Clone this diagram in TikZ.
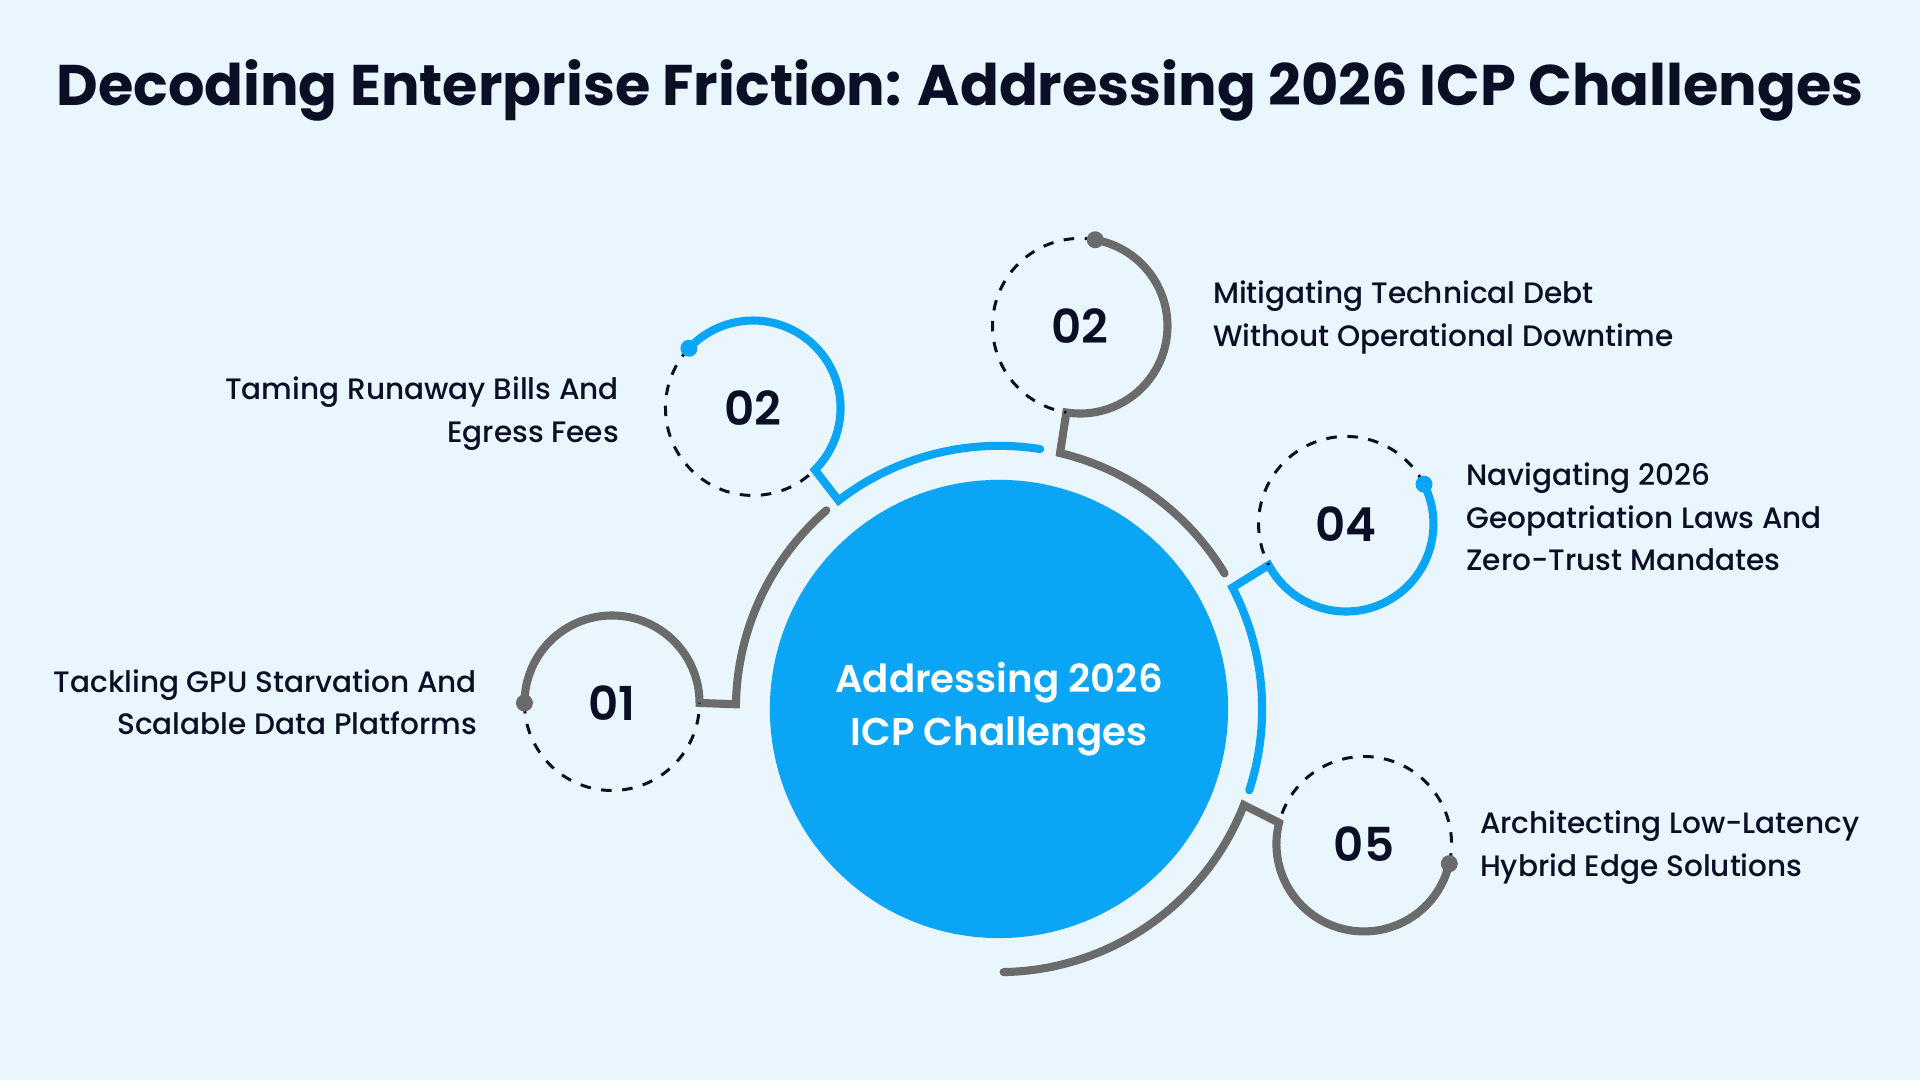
\documentclass[tikz,border=0pt]{standalone}
\usepackage{fontspec}
\setmainfont{Poppins}
\newfontfamily\medfont{Poppins Medium}
\newfontfamily\semifont{Poppins SemiBold}
\definecolor{bgc}{HTML}{EAF6FE}
\definecolor{hubc}{HTML}{0AA5F4}
\definecolor{grayc}{HTML}{6B6B6B}
\definecolor{inkc}{HTML}{0B0F26}
\tikzset{
  grayline/.style={draw=grayc, line width=2.3pt, line cap=round, line join=miter},
  blueline/.style={draw=hubc, line width=2.3pt, line cap=round, line join=miter},
  dashline/.style={draw=inkc, line width=0.85pt, dash pattern=on 3pt off 3pt},
  smallc/.style={circle, minimum size=1.75cm, inner sep=0pt, outer sep=0pt, text=inkc, font=\semifont\fontsize{13.3}{15}\selectfont},
  lbl/.style={inner sep=0pt, text=inkc, font=\medfont\fontsize{8.4}{12.06}\selectfont},
}
\begin{document}
\begin{tikzpicture}[x=0.01cm,y=0.01cm]
\fill[bgc] (0,0) rectangle (1920,1080);
\useasboundingbox (0,0) rectangle (1920,1080);
% title
\node[inner sep=0pt, anchor=base, text=inkc, font=\bfseries\fontsize{16.3}{19}\selectfont] (title) at (960,974.3) {Decoding Enterprise Friction: Addressing 2026 ICP Challenges};
% hub
\node[circle, fill=hubc, minimum size=4.58cm, inner sep=0pt] (hub) at (999,371) {};
\node[inner sep=0pt, text=white, align=center, font=\semifont\fontsize{11}{14.9}\selectfont] (hubtext) at (999,371) {Addressing 2026\\ICP Challenges};
\node[circle, minimum size=5.26cm, inner sep=0pt, outer sep=0pt] (ring) at (999,371) {};
% small circles
\node[smallc] (c1) at (612,377) {01};
\node[smallc] (c2l) at (753,672) {02};
\node[smallc] (c2r) at (1080,754) {02};
\node[smallc] (c4) at (1346,556) {04};
\node[smallc] (c5) at (1364,236) {05};
% 01 gray
\draw[grayline] (ring.131) arc[start angle=131, end angle=179, radius=263] -- (c1.0) arc[start angle=0, end angle=180, radius=87.5];
\draw[dashline] (c1.180) arc[start angle=180, end angle=360, radius=87.5];
\fill[grayc] (c1.180) circle[radius=8.5];
% 02 left blue
\draw[blueline] (ring.81) arc[start angle=81, end angle=127.6, radius=263] -- (c2l.-45) arc[start angle=-45, end angle=137, radius=87.5];
\draw[dashline] (c2l.137) arc[start angle=137, end angle=315, radius=87.5];
\fill[hubc] (c2l.137) circle[radius=8.5];
% 02 right gray
\draw[grayline] (ring.31) arc[start angle=31, end angle=76.6, radius=263] -- (c2r.-99) arc[start angle=-99, end angle=80, radius=87.5];
\draw[dashline] (c2r.80) arc[start angle=80, end angle=261, radius=87.5];
\fill[grayc] (c2r.80) circle[radius=8.5];
% 04 blue
\draw[blueline] (ring.-18) arc[start angle=-18, end angle=27.5, radius=263] -- (c4.208) arc[start angle=208, end angle=387, radius=87.5];
\draw[dashline] (c4.27) arc[start angle=27, end angle=208, radius=87.5];
\fill[hubc] (c4.27) circle[radius=8.5];
% 05 gray
\draw[grayline] (ring.-89) arc[start angle=-89, end angle=-21.4, radius=263] -- (c5.166) arc[start angle=166, end angle=347, radius=87.5];
\draw[dashline] (c5.-13) arc[start angle=-13, end angle=166, radius=87.5];
\fill[grayc] (c5.-13) circle[radius=8.5];
% labels
\node[lbl, anchor=east, align=right] (t2l) at (619.6,666.5) {Taming Runaway Bills And\\Egress Fees};
\node[lbl, anchor=east, align=right] (t1) at (477.6,377.7) {Tackling GPU Starvation And\\Scalable Data Platforms};
\node[lbl, anchor=west, align=left] (t2r) at (1212.3,762.5) {Mitigating Technical Debt\\Without Operational Downtime};
\node[lbl, anchor=west, align=left] (t4) at (1465.8,563) {Navigating 2026\\Geopatriation Laws And\\Zero-Trust Mandates};
\node[lbl, anchor=west, align=left] (t5) at (1479.3,232.5) {Architecting Low-Latency\\Hybrid Edge Solutions};
\end{tikzpicture}
\end{document}
